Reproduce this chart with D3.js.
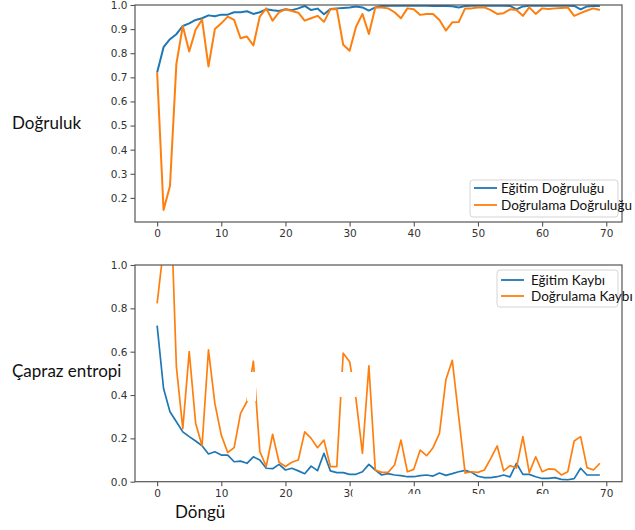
<!DOCTYPE html>
<html>
<head>
<meta charset="utf-8">
<script src="https://cdnjs.cloudflare.com/ajax/libs/d3/7.8.5/d3.min.js"></script>
<style>
  html, body { margin: 0; padding: 0; background: #fff; }
  svg { display: block; }
</style>
</head>
<body>
<svg id="chart" width="635" height="530"></svg>
<script>
// Training history over 70 epochs
const epochs = d3.range(70);

const trainAcc = [
  0.72, 0.825, 0.858, 0.879, 0.913, 0.924, 0.938, 0.945, 0.957, 0.953,
  0.96, 0.96, 0.97, 0.97, 0.974, 0.963, 0.97, 0.982, 0.978, 0.975,
  0.982, 0.978, 0.986, 0.996, 0.979, 0.985, 0.962, 0.983, 0.986, 0.988,
  0.99, 0.994, 0.99, 0.977, 0.99, 0.996, 0.997, 0.997, 0.997, 0.997,
  0.997, 0.997, 0.997, 0.996, 0.996, 0.996, 0.995, 0.99, 0.996, 0.997,
  0.997, 0.997, 0.997, 0.997, 0.997, 0.996, 0.982, 0.994, 0.997, 0.997,
  0.997, 0.997, 0.997, 0.997, 0.997, 0.996, 0.982, 0.994, 0.996, 0.996
];

const valAcc = [
  0.72, 0.15, 0.249, 0.756, 0.913, 0.807, 0.897, 0.94, 0.745, 0.9,
  0.924, 0.952, 0.938, 0.862, 0.869, 0.832, 0.952, 0.986, 0.935, 0.97,
  0.982, 0.975, 0.968, 0.935, 0.945, 0.955, 0.93, 0.982, 0.983, 0.835,
  0.81, 0.91, 0.963, 0.88, 0.99, 0.99, 0.986, 0.97, 0.945, 0.986,
  0.982, 0.959, 0.963, 0.963, 0.938, 0.894, 0.928, 0.929, 0.986, 0.986,
  0.99, 0.99, 0.979, 0.963, 0.966, 0.982, 0.979, 0.955, 0.99, 0.963,
  0.986, 0.983, 0.986, 0.988, 0.99, 0.955, 0.966, 0.977, 0.986, 0.979
];

const trainLoss = [
  0.72, 0.43, 0.323, 0.277, 0.23, 0.208, 0.188, 0.166, 0.128, 0.138,
  0.123, 0.123, 0.092, 0.095, 0.085, 0.115, 0.1, 0.062, 0.06, 0.08,
  0.054, 0.062, 0.05, 0.037, 0.072, 0.051, 0.131, 0.05, 0.042, 0.042,
  0.034, 0.034, 0.046, 0.08, 0.054, 0.031, 0.037, 0.031, 0.028, 0.023,
  0.023, 0.028, 0.031, 0.026, 0.04, 0.029, 0.037, 0.046, 0.052, 0.043,
  0.025, 0.019, 0.019, 0.023, 0.031, 0.022, 0.085, 0.034, 0.034, 0.023,
  0.015, 0.015, 0.019, 0.011, 0.009, 0.014, 0.062, 0.031, 0.031, 0.031
];

const valLoss = [
  0.823, 1.08, 1.4, 0.53, 0.245, 0.6, 0.27, 0.166, 0.608, 0.36,
  0.215, 0.135, 0.157, 0.315, 0.37, 0.556, 0.14, 0.07, 0.219, 0.09,
  0.07, 0.09, 0.1, 0.23, 0.2, 0.157, 0.192, 0.07, 0.07, 0.593,
  0.554, 0.38, 0.131, 0.535, 0.054, 0.043, 0.043, 0.077, 0.192, 0.046,
  0.057, 0.146, 0.12, 0.157, 0.223, 0.47, 0.56, 0.3, 0.04, 0.046,
  0.043, 0.054, 0.108, 0.165, 0.05, 0.074, 0.063, 0.208, 0.042, 0.115,
  0.046, 0.059, 0.057, 0.031, 0.046, 0.188, 0.208, 0.065, 0.054, 0.085
];

const xTicks = [0, 10, 20, 30, 40, 50, 60, 70];
const accTicks = [0.2, 0.3, 0.4, 0.5, 0.6, 0.7, 0.8, 0.9, 1.0];
const lossTicks = [0.0, 0.2, 0.4, 0.6, 0.8, 1.0];

const accLegend = ["Eğitim Doğruluğu", "Doğrulama Doğruluğu"];
const lossLegend = ["Eğitim Kaybı", "Doğrulama Kaybı"];
const yLabels = ["Doğruluk", "Çapraz entropi"];
const xLabel = "Döngü";

const BLUE = "#1f77b4", ORANGE = "#ff7f0e";
const LABEL_FONT = "Lato, 'Open Sans', sans-serif";
const TICK_FONT = "'DejaVu Sans', sans-serif";

const svg = d3.select("#chart");

const x = d3.scaleLinear().domain([-3.45, 72.45]).range([135, 622]);

function panel(id, y, ticks, fmt, series, legend, legendBox, lw) {
  const [x0, x1] = x.range();
  const [yb, yt] = y.range();

  svg.append("clipPath").attr("id", id)
    .append("rect").attr("x", x0).attr("y", yt).attr("width", x1 - x0).attr("height", yb - yt);

  const g = svg.append("g").attr("clip-path", `url(#${id})`);
  const line = d3.line().x((d, i) => x(epochs[i])).y(d => y(d));
  series.forEach(s => {
    g.append("path").datum(s.values)
      .attr("fill", "none").attr("stroke", s.color)
      .attr("stroke-width", lw).attr("stroke-linejoin", "round")
      .attr("d", line);
  });

  // axes
  const ax = svg.append("g").attr("transform", `translate(0,${yb})`)
    .call(d3.axisBottom(x).tickValues(xTicks).tickFormat(d3.format("d")).tickSize(4.5).tickPadding(3));
  const ay = svg.append("g").attr("transform", `translate(${x0},0)`)
    .call(d3.axisLeft(y).tickValues(ticks).tickFormat(fmt).tickSize(4.5).tickPadding(3));
  [ax, ay].forEach(a => {
    a.select(".domain").remove();
    a.selectAll("line").attr("stroke", "#555").attr("stroke-width", 1.1);
    a.selectAll("text").attr("fill", "#333").style("font-family", TICK_FONT).style("font-size", "10.5px");
  });

  // frame
  svg.append("rect").attr("x", x0).attr("y", yt).attr("width", x1 - x0).attr("height", yb - yt)
    .attr("fill", "none").attr("stroke", "#555").attr("stroke-width", 1.2);

  // legend
  const lg = svg.append("g");
  lg.append("rect").attr("x", legendBox.x).attr("y", legendBox.y)
    .attr("width", legendBox.w).attr("height", legendBox.h).attr("rx", 3)
    .attr("fill", "#fff").attr("fill-opacity", 0.85).attr("stroke", "#d5d5d5");
  legend.forEach((name, i) => {
    const cy = legendBox.y + legendBox.row0 + i * legendBox.step;
    lg.append("line").attr("x1", legendBox.x + 4).attr("x2", legendBox.x + 27)
      .attr("y1", cy).attr("y2", cy).attr("stroke", series[i].color).attr("stroke-width", 1.8);
    lg.append("text").attr("x", legendBox.x + legendBox.tx).attr("y", cy + 4.5)
      .style("font-family", LABEL_FONT).style("font-size", "13.5px").attr("fill", "#111")
      .text(name);
  });
}

const yAcc = d3.scaleLinear().domain([0.1, 1.0]).range([222, 5]);
const yLoss = d3.scaleLinear().domain([0, 1.0]).range([481.7, 265]);

panel("clipAcc", yAcc, accTicks, d3.format(".1f"),
  [{ values: trainAcc, color: BLUE }, { values: valAcc, color: ORANGE }],
  accLegend, { x: 470, y: 180, w: 148, h: 37, row0: 8, step: 17, tx: 31 }, 2);

panel("clipLoss", yLoss, lossTicks, d3.format(".1f"),
  [{ values: trainLoss, color: BLUE }, { values: valLoss, color: ORANGE }],
  lossLegend, { x: 497, y: 270, w: 121, h: 37, row0: 10, step: 16, tx: 34 }, 1.7);

// masked-out strips over the loss panel
const masks = [
  { x: 247, y: 372, w: 9, h: 29 },
  { x: 340, y: 372, w: 16.5, h: 25 },
  { x: 352.7, y: 483, w: 6, h: 32 },
  { x: 352.7, y: 494, w: 230, h: 21 }
];
svg.append("g").selectAll("rect").data(masks).join("rect")
  .attr("x", d => d.x).attr("y", d => d.y).attr("width", d => d.w).attr("height", d => d.h)
  .attr("fill", "#fff");

// axis titles
svg.append("text").attr("x", 12).attr("y", 128.5)
  .style("font-family", LABEL_FONT).style("font-size", "17px").attr("fill", "#111").text(yLabels[0]);
svg.append("text").attr("x", 12).attr("y", 376.5)
  .style("font-family", LABEL_FONT).style("font-size", "17px").attr("fill", "#111").text(yLabels[1]);
svg.append("text").attr("x", 175).attr("y", 517.5)
  .style("font-family", LABEL_FONT).style("font-size", "17px").attr("fill", "#111").text(xLabel);
</script>
</body>
</html>
